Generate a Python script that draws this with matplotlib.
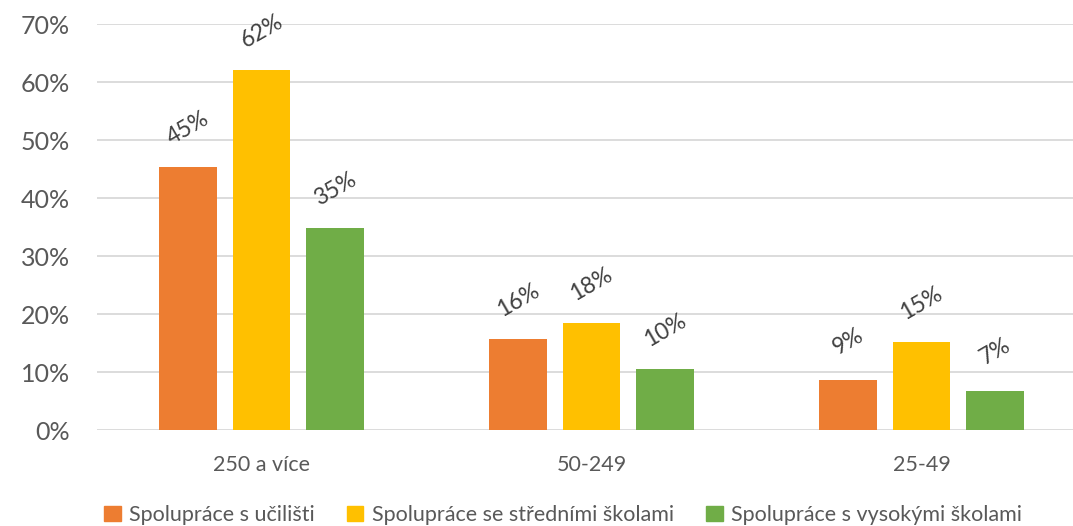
import numpy as np
import matplotlib.pyplot as plt
from matplotlib.patches import Patch

plt.rcParams['font.family'] = ['Lato', 'DejaVu Sans']

categories = ['250 a více', '50-249', '25-49']
series_names = ['Spolupráce s učilišti',
                'Spolupráce se středními školami',
                'Spolupráce s vysokými školami']
ucilisti = [0.453, 0.157, 0.086]
stredni = [0.621, 0.184, 0.152]
vysoke = [0.348, 0.105, 0.068]
labels = [['45%', '16%', '9%'], ['62%', '18%', '15%'], ['35%', '10%', '7%']]
colors = ['#ED7D31', '#FFC000', '#70AD47']
text_col = '#595959'

fig = plt.figure(figsize=(10.73, 5.26), dpi=100)
ax = fig.add_axes([96.5 / 1073, 1 - 430 / 526, 1 - 96.5 / 1073, (430 - 24) / 526])

x = np.arange(len(categories))
offs = [-0.2227, 0.0, 0.2227]
width = 0.173
for vals, off, col, labs in zip([ucilisti, stredni, vysoke], offs, colors, labels):
    bars = ax.bar(x + off, vals, width, color=col, zorder=3)
    for b, lab in zip(bars, labs):
        ax.annotate(lab, (b.get_x() + b.get_width() / 2, b.get_height()),
                    xytext=(0, 28), textcoords='offset points',
                    ha='center', va='center', rotation=30,
                    fontsize=16.5, color='#404040')

ax.set_xlim(-0.5, (1073 - 261.5) / 330)
ax.set_ylim(0, 0.7)
ax.set_yticks(np.arange(0, 0.71, 0.1))
ax.set_yticklabels(['%d%%' % v for v in range(0, 71, 10)], fontsize=18, color=text_col)
ax.set_xticks(x)
ax.set_xticklabels(categories, fontsize=15.5, color=text_col)
ax.tick_params(length=0)
ax.tick_params(axis='x', pad=18)
ax.tick_params(axis='y', pad=19)
ax.grid(axis='y', color='#D9D9D9', linewidth=1.3, zorder=0)
for s in ax.spines.values():
    s.set_visible(False)

handles = [Patch(color=c) for c in colors]
fig.legend(handles, series_names, loc='lower center', ncol=3, frameon=False,
           fontsize=15.5, labelcolor=text_col, handlelength=0.75, handleheight=0.75,
           handletextpad=0.4, columnspacing=1.5, bbox_to_anchor=(0.525, -0.035))

fig.savefig('out.png', dpi=100)
